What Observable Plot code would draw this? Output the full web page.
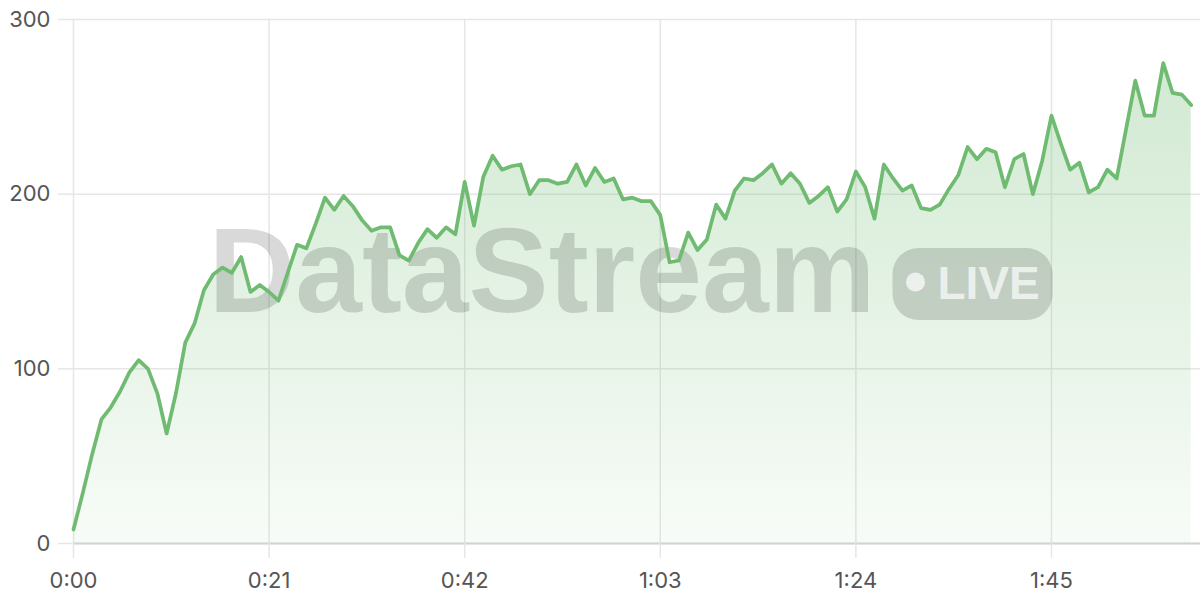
<!DOCTYPE html>
<html>
<head>
<meta charset="utf-8">
<script src="https://cdn.jsdelivr.net/npm/d3@7"></script>
<script src="https://cdn.jsdelivr.net/npm/@observablehq/plot@0.6"></script>
<style>
  html, body { margin: 0; padding: 0; background: #fff; }
  #chart { width: 1200px; height: 600px; }
</style>
</head>
<body>
<div id="chart"></div>
<script>
// Values sampled once per second (t = index in seconds)
const values = [
  8, 29, 51, 71, 78, 87, 98, 105, 100, 86,
  63, 86, 115, 126, 145, 154, 158, 155, 164, 144,
  148, 144, 139, 155, 171, 169, 183, 198, 191, 199,
  193, 185, 179, 181, 181, 165, 162, 172, 180, 175,
  181, 177, 207, 182, 210, 222, 214, 216, 217, 200,
  208, 208, 206, 207, 217, 205, 215, 207, 209, 197,
  198, 196, 196, 188, 161, 162, 178, 168, 174, 194,
  186, 202, 209, 208, 212, 217, 206, 212, 206, 195,
  199, 204, 190, 197, 213, 204, 186, 217, 209, 202,
  205, 192, 191, 194, 203, 211, 227, 220, 226, 224,
  204, 220, 223, 200, 219, 245, 229, 214, 218, 201,
  204, 214, 209, 237, 265, 245, 245, 275, 258, 257,
  251
];
const xTicks = [0, 21, 42, 63, 84, 105];
const yTicks = [0, 100, 200, 300];
const xDomain = [0, 121];
const yDomain = [0, 300];
const watermarkText = "DataStream";
const badgeText = "LIVE";

const data = values.map((v, i) => ({t: i, v}));
const fmtTime = (s) => `${Math.floor(s / 60)}:${String(s % 60).padStart(2, "0")}`;

const lineColor = "#6fbb71";
const gridColor = "#e6e6e6";

function gradientDefs() {
  const defs = d3.create("svg:defs");
  const g = defs.append("linearGradient")
    .attr("id", "areaGrad")
    .attr("x1", 0).attr("y1", 0).attr("x2", 0).attr("y2", 1);
  g.append("stop").attr("offset", "0%").attr("stop-color", lineColor).attr("stop-opacity", 0.32);
  g.append("stop").attr("offset", "100%").attr("stop-color", lineColor).attr("stop-opacity", 0.05);
  return defs.node();
}

function watermark(index, scales, values, dimensions) {
  const dims = dimensions || {width: 1200, height: 600, marginLeft: 73, marginRight: 0, marginTop: 19, marginBottom: 57};
  const cx = (dims.marginLeft + dims.width - dims.marginRight) / 2;
  const cy = (dims.marginTop + dims.height - dims.marginBottom) / 2;
  const g = d3.create("svg:g").attr("transform", `translate(${cx},${cy})`).attr("pointer-events", "none");
  g.append("text")
    .attr("x", -428).attr("y", 31)
    .attr("text-anchor", "start")
    .attr("font-family", "'Liberation Sans', Arial, sans-serif")
    .attr("font-weight", "bold")
    .attr("font-size", 120)
    .attr("fill", "#000").attr("fill-opacity", 0.15)
    .text(watermarkText);
  g.append("rect")
    .attr("x", 256).attr("y", -33).attr("width", 160).attr("height", 72).attr("rx", 26)
    .attr("fill", "#000").attr("fill-opacity", 0.15);
  g.append("circle")
    .attr("cx", 279).attr("cy", 1).attr("r", 9.5)
    .attr("fill", "#fff").attr("fill-opacity", 0.7);
  g.append("text")
    .attr("x", 301).attr("y", 17.5)
    .attr("text-anchor", "start")
    .attr("font-family", "'Liberation Sans', Arial, sans-serif")
    .attr("font-weight", "bold")
    .attr("font-size", 46)
    .attr("fill", "#fff").attr("fill-opacity", 0.7)
    .text(badgeText);
  return g.node();
}

const chart = Plot.plot({
  width: 1200,
  height: 600,
  marginLeft: 73,
  marginRight: 0,
  marginTop: 19,
  marginBottom: 57,
  style: {fontFamily: "Inter, 'Noto Sans', sans-serif", background: "#fff"},
  x: {domain: xDomain},
  y: {domain: yDomain},
  marks: [
    gradientDefs,
    Plot.gridX(xTicks, {stroke: gridColor, strokeOpacity: 1, strokeWidth: 1.5}),
    Plot.gridY(yTicks, {stroke: gridColor, strokeOpacity: 1, strokeWidth: 1.5}),
    Plot.areaY(data, {x: "t", y: "v", fill: "url(#areaGrad)"}),
    watermark,
    Plot.ruleY([0], {stroke: "#d2d2d2", strokeWidth: 2}),
    Plot.lineY(data, {x: "t", y: "v", stroke: lineColor, strokeWidth: 3.7, strokeLinejoin: "round", strokeLinecap: "round"}),
    Plot.axisX(xTicks, {
      tickSize: 15, tickPadding: 14, tickFormat: fmtTime,
      stroke: gridColor, strokeWidth: 1.5, fill: "#555", fontSize: 22,
      fontVariant: "normal", label: null
    }),
    Plot.axisY(yTicks, {
      tickSize: 15, tickPadding: 8,
      stroke: gridColor, strokeWidth: 1.5, fill: "#555", fontSize: 22,
      fontVariant: "normal", label: null
    })
  ]
});
document.getElementById("chart").appendChild(chart);
</script>
</body>
</html>
